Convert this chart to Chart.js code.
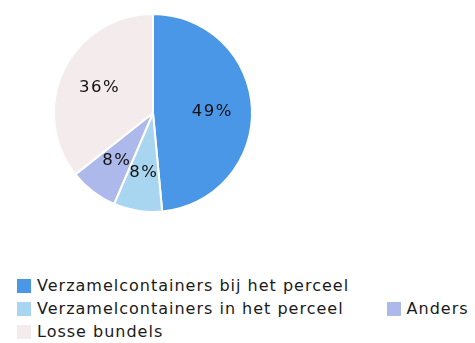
<!DOCTYPE html>
<html>
<head>
<meta charset="utf-8">
<script src="https://cdn.jsdelivr.net/npm/chart.js"></script>
<style>
  html, body { margin: 0; padding: 0; background: #fff; overflow: hidden; }
  body { width: 475px; height: 343px; position: relative; font-family: "DejaVu Sans", sans-serif; }
  #wrap { position: absolute; left: 0; top: 0; width: 306px; height: 226px; }
  #legend { position: absolute; left: 17px; top: 274px; width: 470px; display: flex; flex-wrap: wrap; column-gap: 43px; }
  .item { display: flex; align-items: center; height: 23px; font-size: 16px; letter-spacing: 1px; color: #1a1a1a; white-space: nowrap; }
  .box { width: 14px; height: 14px; margin-right: 6px; }
</style>
</head>
<body>
<div id="wrap"><canvas id="pie"></canvas></div>
<div id="legend"></div>
<script>
const categories = [
  "Verzamelcontainers bij het perceel",
  "Verzamelcontainers in het perceel",
  "Anders",
  "Losse bundels"
];
const shares = [49, 8, 8, 36];
const colors = ["#4a97e8", "#a8d6f0", "#adb8eb", "#f4ecec"];

// percentage text inside each slice, at 60% of the radius
const sliceLabels = {
  id: "sliceLabels",
  afterDatasetsDraw(chart) {
    const ctx = chart.ctx;
    const meta = chart.getDatasetMeta(0);
    ctx.save();
    ctx.font = "16.5px 'DejaVu Sans', sans-serif";
    ctx.letterSpacing = "1.5px";
    ctx.fillStyle = "#111";
    ctx.textAlign = "center";
    ctx.textBaseline = "middle";
    meta.data.forEach((arc, i) => {
      const p = arc.getProps(["x", "y", "startAngle", "endAngle", "outerRadius"], true);
      const mid = (p.startAngle + p.endAngle) / 2;
      const r = p.outerRadius * 0.6;
      ctx.fillText(shares[i] + "%", p.x + Math.cos(mid) * r, p.y + Math.sin(mid) * r + 1);
    });
    ctx.restore();
  }
};

new Chart(document.getElementById("pie"), {
  type: "pie",
  data: {
    labels: categories,
    datasets: [{
      data: shares,
      backgroundColor: colors,
      borderColor: "#fff",
      borderWidth: 2
    }]
  },
  options: {
    responsive: true,
    maintainAspectRatio: false,
    animation: false,
    layout: { padding: { top: 13, bottom: 13 } },
    plugins: {
      legend: { display: false },
      tooltip: { enabled: false }
    }
  },
  plugins: [sliceLabels]
});

// html legend below the pie
const legend = document.getElementById("legend");
categories.forEach((name, i) => {
  const item = document.createElement("div");
  item.className = "item";
  item.innerHTML = `<span class="box" style="background:${colors[i]}"></span><span>${name}</span>`;
  legend.appendChild(item);
});
</script>
</body>
</html>
